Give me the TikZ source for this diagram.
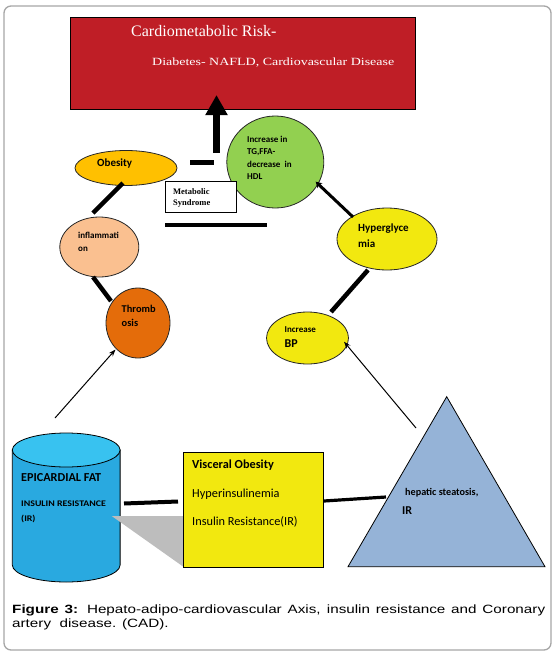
\documentclass[tikz,border=0pt]{standalone}
\usepackage{fontspec}
\setmainfont{Liberation Serif}
\newfontfamily\calf{Carlito}
\newfontfamily\capf{Liberation Sans}
\usetikzlibrary{shapes.geometric,arrows.meta}
\newcommand{\hstretch}[2]{\scalebox{#1}[1]{#2}}
\definecolor{riskred}{HTML}{BF1E26}
\definecolor{obes}{HTML}{FFC000}
\definecolor{greenc}{HTML}{92D050}
\definecolor{yellowc}{HTML}{F2E80F}
\definecolor{peach}{HTML}{FAC090}
\definecolor{thromb}{HTML}{E46C0A}
\definecolor{liver}{HTML}{95B3D7}
\definecolor{cylbody}{HTML}{29A9E0}
\definecolor{cyltop}{HTML}{38C2F0}
\definecolor{shadowgray}{HTML}{BDBDBD}
\tikzset{
  blob/.style={ellipse, draw=black!85, line width=0.8pt, inner sep=0pt},
  lbl/.style={anchor=base west, inner sep=0pt, font=\calf\bfseries},
  thickline/.style={line width=4.5pt, black},
  thinarrow/.style={line width=1pt, black, -{Stealth[length=7pt,width=5pt]}},
}
\begin{document}
\begin{tikzpicture}[x=1pt,y=-1pt]
\useasboundingbox (0,0) rectangle (556,654);
\draw[black!35, line width=1.3pt, rounded corners=7pt] (4,6) rectangle (551,650);

% risk box
\node[draw=black, line width=1pt, fill=riskred, minimum width=345pt, minimum height=92pt, anchor=north west, inner sep=0pt] (risk) at (70,17) {};
\node[anchor=base west, inner sep=0pt, text=white, font=\fontsize{16}{18}\selectfont] (rt1) at (131,36) {Cardiometabolic Risk-};
\node[anchor=base west, inner sep=0pt, text=white, font=\fontsize{11}{13}\selectfont] (rt2) at (152,65) {\hstretch{1.27}{Diabetes- NAFLD, Cardiovascular Disease}};

% thick arrow up
\coordinate (upstart) at (216.5,153);
\coordinate (uptip) at (216.5,95);
\draw[line width=7.5pt, -{Triangle[width=21pt,length=20pt]}] (upstart) -- (uptip);

% shapes
\node[blob, fill=obes, minimum width=102pt, minimum height=35pt] (obesity) at (126,168) {};
\node[lbl, font=\calf\bfseries\fontsize{11}{13}\selectfont] (tobes) at (97,166) {Obesity};

\node[blob, fill=greenc, minimum width=97pt, minimum height=92pt] (green) at (275.3,162) {};
\node[lbl, font=\calf\bfseries\fontsize{9}{11}\selectfont] (tg1) at (247,142) {Increase in};
\node[lbl, font=\calf\bfseries\fontsize{9}{11}\selectfont] (tg2) at (247,154.5) {TG,FFA-};
\node[lbl, font=\calf\bfseries\fontsize{9}{11}\selectfont] (tg3) at (247,167) {decrease~ in};
\node[lbl, font=\calf\bfseries\fontsize{9}{11}\selectfont] (tg4) at (247,179.3) {HDL};

\node[blob, fill=yellowc, minimum width=100pt, minimum height=62pt] (hyper) at (387,239) {};
\node[lbl, font=\calf\bfseries\fontsize{11}{13}\selectfont] (th1) at (358,231) {Hyperglyce};
\node[lbl, font=\calf\bfseries\fontsize{11}{13}\selectfont] (th2) at (358,247) {mia};

\node[blob, fill=yellowc, minimum width=82pt, minimum height=52pt] (bp) at (307.5,338) {};
\node[lbl, font=\calf\bfseries\fontsize{9}{11}\selectfont] (tbp1) at (284.5,332.3) {Increase};
\node[lbl, font=\calf\bfseries\fontsize{12}{13}\selectfont] (tbp2) at (284.5,347.3) {BP};

\node[blob, fill=peach, minimum width=79pt, minimum height=60pt] (infl) at (99.3,247) {};
\node[lbl, font=\calf\bfseries\fontsize{9}{11}\selectfont] (ti1) at (78,238.5) {inflammati};
\node[lbl, font=\calf\bfseries\fontsize{9}{11}\selectfont] (ti2) at (78,251) {on};

\node[blob, fill=thromb, minimum width=64pt, minimum height=70pt] (thr) at (138,323) {};
\node[lbl, font=\calf\bfseries\fontsize{10.4}{12}\selectfont] (tt1) at (121.5,312) {Thromb};
\node[lbl, font=\calf\bfseries\fontsize{10.4}{12}\selectfont] (tt2) at (121.5,326) {osis};

% metabolic syndrome box
\node[draw=black, line width=0.8pt, fill=white, minimum width=70.7pt, minimum height=31pt, anchor=north west, inner sep=0pt] (ms) at (165,181) {};
\node[anchor=base west, inner sep=0pt, font=\bfseries\fontsize{8.5}{10}\selectfont] (tms1) at (173,194) {Metabolic};
\node[anchor=base west, inner sep=0pt, font=\bfseries\fontsize{8.5}{10}\selectfont] (tms2) at (173,205.7) {Syndrome};

% thick connector lines
\coordinate (shortA) at (190,162.7);
\coordinate (shortB) at (214,162.7);
\draw[thickline] (shortA) -- (shortB);
\coordinate (longA) at (165,225);
\coordinate (longB) at (267,225);
\draw[line width=4pt] (longA) -- (longB);
\coordinate (ob1) at (123,183);
\coordinate (in1) at (93,213);
\draw[thickline] (ob1) -- (in1);
\coordinate (in2) at (93,277);
\coordinate (th1c) at (111,301);
\draw[thickline] (in2) -- (th1c);
\coordinate (hy1) at (353,217);
\coordinate (gr1) at (315.7,181.7);
\draw[line width=3pt, -{Stealth[length=6pt,width=7pt]}] (hy1) -- (gr1);
\coordinate (hy2) at (368,270);
\coordinate (bp1) at (331,312);
\draw[thickline] (hy2) -- (bp1);

% cylinder
\coordinate (cylc) at (66.2,450);
\draw[black, line width=0.8pt, fill=cylbody] (12.3,450) -- (12.3,565) arc[start angle=180, end angle=360, x radius=53.9pt, y radius=17pt] -- (120.1,450) -- cycle;
\draw[black, line width=0.8pt, fill=cyltop] (cylc) ellipse[x radius=53.9pt, y radius=17pt];
\node[lbl, font=\calf\bfseries\fontsize{12.2}{14}\selectfont] (tcyl1) at (21,481) {EPICARDIAL FAT};
\node[lbl, font=\calf\bfseries\fontsize{8.6}{10}\selectfont] (tcyl2) at (21,506.7) {\hstretch{1.15}{INSULIN RESISTANCE}};
\node[lbl, font=\calf\bfseries\fontsize{8.6}{10}\selectfont] (tcyl3) at (21,521.7) {\hstretch{1.15}{(IR)}};

% shadow
\fill[shadowgray] (111.7,516) -- (183.3,516) -- (183.3,566.7) -- cycle;

% visceral box
\node[draw=black, line width=0.8pt, fill=yellowc, minimum width=140pt, minimum height=114.4pt, anchor=north west, inner sep=0pt] (visc) at (183.3,452.3) {};
\node[lbl, font=\calf\bfseries\fontsize{12.3}{14}\selectfont] (tv1) at (192,468) {Visceral Obesity};
\node[lbl, font=\calf\fontsize{12.3}{14}\selectfont] (tv2) at (192,497) {Hyperinsulinemia};
\node[lbl, font=\calf\fontsize{12.3}{14}\selectfont] (tv3) at (192,525.6) {Insulin Resistance(IR)};

% triangle
\coordinate (livA) at (446.7,396.7);
\coordinate (livB) at (348,566.7);
\coordinate (livC) at (545,566.7);
\draw[black, line width=0.8pt, fill=liver] (livA) -- (livB) -- (livC) -- cycle;
\node[lbl, font=\calf\bfseries\fontsize{10.2}{12}\selectfont] (tl1) at (405,495) {hepatic steatosis,};
\node[lbl, font=\calf\bfseries\fontsize{12}{13}\selectfont] (tl2) at (402,514) {IR};

% horizontal connectors
\coordinate (cy1) at (124,503.5);
\coordinate (vi1) at (178,501.5);
\draw[line width=4pt] (cy1) -- (vi1);
\coordinate (vi2) at (324,501);
\coordinate (li1) at (386,497);
\draw[line width=3.2pt] (vi2) -- (li1);

% thin arrows
\coordinate (cy2) at (55,418);
\coordinate (th2) at (115.5,349.5);
\draw[thinarrow] (cy2) -- (th2);
\coordinate (li2) at (416,428);
\coordinate (bp2) at (344,341.7);
\draw[thinarrow] (li2) -- (bp2);

% caption
\node[anchor=base west, inner sep=0pt] (cap) at (12,613.3) {\hstretch{1.27}{\parbox[t]{419.7pt}{\capf\fontsize{12}{14.17}\selectfont\noindent\textbf{Figure 3:} Hepato-adipo-cardiovascular Axis, insulin resistance and Coronary\linebreak artery~ disease. (CAD).}}};
\end{tikzpicture}
\end{document}
